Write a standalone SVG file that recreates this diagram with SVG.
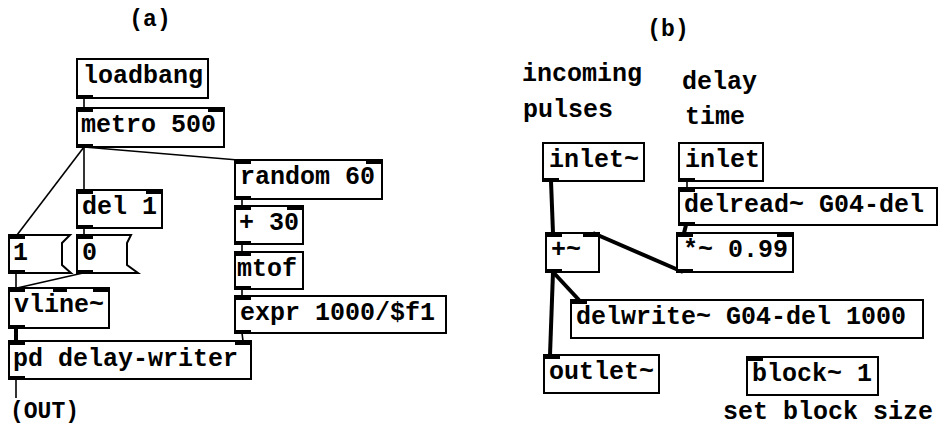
<svg xmlns="http://www.w3.org/2000/svg" width="938" height="427" viewBox="0 0 938 427">
<style>
.box{fill:#fff;stroke:#000;stroke-width:2}
.io{fill:#000}
.t{font-family:"Liberation Mono","DejaVu Sans Mono",monospace;font-weight:bold;font-size:25px;fill:#000}
.lbl{font-family:"Liberation Mono","DejaVu Sans Mono",monospace;font-weight:bold;font-size:23px;fill:#000}
.c{stroke:#000;stroke-width:1.6;fill:none}
.s{stroke:#000;stroke-width:4;fill:none}
</style>
<rect width="938" height="427" fill="#fff"/>
<g id="connectors">
<line class="c" x1="84" y1="98" x2="84" y2="108"/>
<line class="c" x1="84" y1="147" x2="84" y2="190"/>
<line class="c" x1="84" y1="147" x2="17" y2="235"/>
<line class="c" x1="84" y1="147" x2="238" y2="160"/>
<line class="c" x1="84" y1="228" x2="84" y2="235"/>
<line class="c" x1="16" y1="273" x2="16" y2="288"/>
<line class="c" x1="83" y1="273" x2="17" y2="288"/>
<line class="s" x1="16" y1="328" x2="16" y2="341"/>
<line class="c" x1="242" y1="199" x2="242" y2="206"/>
<line class="c" x1="242" y1="244" x2="242" y2="252"/>
<line class="c" x1="242" y1="289" x2="242" y2="296"/>
<line class="c" x1="242" y1="333" x2="243" y2="341"/>
<line class="c" x1="16" y1="379" x2="16" y2="398"/>
<line class="s" x1="551" y1="181" x2="553" y2="233"/>
<line class="c" x1="687" y1="181" x2="687" y2="188"/>
<line class="s" x1="686" y1="225" x2="684" y2="233"/>
<line class="s" x1="683" y1="272" x2="593" y2="233"/>
<line class="s" x1="553" y1="272" x2="579" y2="300"/>
<line class="s" x1="553" y1="272" x2="550" y2="355"/>
</g>
<g id="label-a"><text class="lbl" x="150" y="26" text-anchor="middle">(a)</text></g>
<g id="label-b"><text class="lbl" x="668" y="36" text-anchor="middle">(b)</text></g>
<g id="loadbang">
<rect class="box" x="77" y="59" width="131" height="39"/>
<text class="t" x="83" y="83">loadbang</text>
<rect class="io" x="77" y="95" width="16" height="4"/>
</g>
<g id="metro">
<rect class="box" x="77" y="108" width="147" height="39"/>
<text class="t" x="81" y="132">metro 500</text>
<rect class="io" x="77" y="108" width="16" height="4"/><rect class="io" x="208" y="108" width="16" height="4"/>
<rect class="io" x="77" y="144" width="16" height="4"/>
</g>
<g id="del">
<rect class="box" x="77" y="190" width="85" height="38"/>
<text class="t" x="82" y="214">del 1</text>
<rect class="io" x="77" y="190" width="16" height="4"/><rect class="io" x="146" y="190" width="16" height="4"/>
<rect class="io" x="77" y="225" width="16" height="4"/>
</g>
<g id="msg1">
<path class="box" d="M9,235 H70 L62,243 V265 L71,273 H9 Z"/>
<text class="t" x="13" y="260">1</text>
<rect class="io" x="9" y="235" width="16" height="4"/>
<rect class="io" x="9" y="270" width="16" height="4"/>
</g>
<g id="msg0">
<path class="box" d="M77,235 H131 L127,243 V265 L138,273 H77 Z"/>
<text class="t" x="82" y="260">0</text>
<rect class="io" x="77" y="235" width="16" height="4"/>
<rect class="io" x="77" y="270" width="16" height="4"/>
</g>
<g id="vline">
<rect class="box" x="9" y="288" width="100" height="40"/>
<text class="t" x="14" y="312">vline~</text>
<rect class="io" x="9" y="288" width="16" height="4"/><rect class="io" x="53" y="288" width="14" height="4"/><rect class="io" x="93" y="288" width="16" height="4"/>
<rect class="io" x="9" y="325" width="16" height="4"/>
</g>
<g id="pd-delay-writer">
<rect class="box" x="9" y="341" width="242" height="38"/>
<text class="t" x="13" y="366">pd delay-writer</text>
<rect class="io" x="9" y="341" width="16" height="4"/><rect class="io" x="235" y="341" width="16" height="4"/>
<rect class="io" x="9" y="376" width="16" height="4"/>
</g>
<g id="out-label"><text class="lbl" x="10" y="418">(OUT)</text></g>
<g id="random">
<rect class="box" x="235" y="160" width="147" height="39"/>
<text class="t" x="240" y="184">random 60</text>
<rect class="io" x="235" y="160" width="16" height="4"/><rect class="io" x="366" y="160" width="16" height="4"/>
<rect class="io" x="235" y="196" width="16" height="4"/>
</g>
<g id="plus30">
<rect class="box" x="235" y="206" width="68" height="38"/>
<text class="t" x="239" y="230">+ 30</text>
<rect class="io" x="235" y="206" width="16" height="4"/><rect class="io" x="287" y="206" width="16" height="4"/>
<rect class="io" x="235" y="241" width="16" height="4"/>
</g>
<g id="mtof">
<rect class="box" x="235" y="252" width="68" height="37"/>
<text class="t" x="237" y="276">mtof</text>
<rect class="io" x="235" y="252" width="16" height="4"/>
<rect class="io" x="235" y="286" width="16" height="4"/>
</g>
<g id="expr">
<rect class="box" x="235" y="296" width="211" height="37"/>
<text class="t" x="240" y="320">expr 1000/$f1</text>
<rect class="io" x="235" y="296" width="16" height="4"/>
<rect class="io" x="235" y="330" width="16" height="4"/>
</g>
<g id="label-incoming">
<text class="t" x="522" y="81">incoming</text>
<text class="t" x="523" y="117">pulses</text>
</g>
<g id="label-delay">
<text class="t" x="682" y="89">delay</text>
<text class="t" x="685" y="124">time</text>
</g>
<g id="inlet-sig">
<rect class="box" x="543" y="143" width="101" height="38"/>
<text class="t" x="549" y="167">inlet~</text>
<rect class="io" x="543" y="178" width="16" height="4"/>
</g>
<g id="inlet-ctl">
<rect class="box" x="679" y="143" width="84" height="38"/>
<text class="t" x="685" y="167">inlet</text>
<rect class="io" x="679" y="178" width="16" height="4"/>
</g>
<g id="delread">
<rect class="box" x="679" y="188" width="258" height="37"/>
<text class="t" x="684" y="212">delread~ G04-del</text>
<rect class="io" x="679" y="188" width="16" height="4"/>
<rect class="io" x="679" y="222" width="16" height="4"/>
</g>
<g id="mul">
<rect class="box" x="677" y="233" width="116" height="39"/>
<text class="t" x="683" y="257">*~ 0.99</text>
<rect class="io" x="677" y="233" width="16" height="4"/><rect class="io" x="777" y="233" width="16" height="4"/>
<rect class="io" x="677" y="269" width="16" height="4"/>
</g>
<g id="add">
<rect class="box" x="546" y="233" width="53" height="39"/>
<text class="t" x="551" y="257">+~</text>
<rect class="io" x="546" y="233" width="16" height="4"/><rect class="io" x="583" y="233" width="16" height="4"/>
<rect class="io" x="546" y="269" width="16" height="4"/>
</g>
<g id="delwrite">
<rect class="box" x="571" y="300" width="352" height="38"/>
<text class="t" x="576" y="324">delwrite~ G04-del 1000</text>
<rect class="io" x="571" y="300" width="16" height="4"/>
</g>
<g id="outlet-sig">
<rect class="box" x="544" y="355" width="115" height="38"/>
<text class="t" x="549" y="379">outlet~</text>
<rect class="io" x="544" y="355" width="16" height="4"/>
</g>
<g id="block">
<rect class="box" x="747" y="357" width="131" height="38"/>
<text class="t" x="752" y="381">block~ 1</text>
<rect class="io" x="747" y="357" width="16" height="4"/>
</g>
<g id="label-block"><text class="t" x="723" y="419">set block size</text></g>
</svg>
